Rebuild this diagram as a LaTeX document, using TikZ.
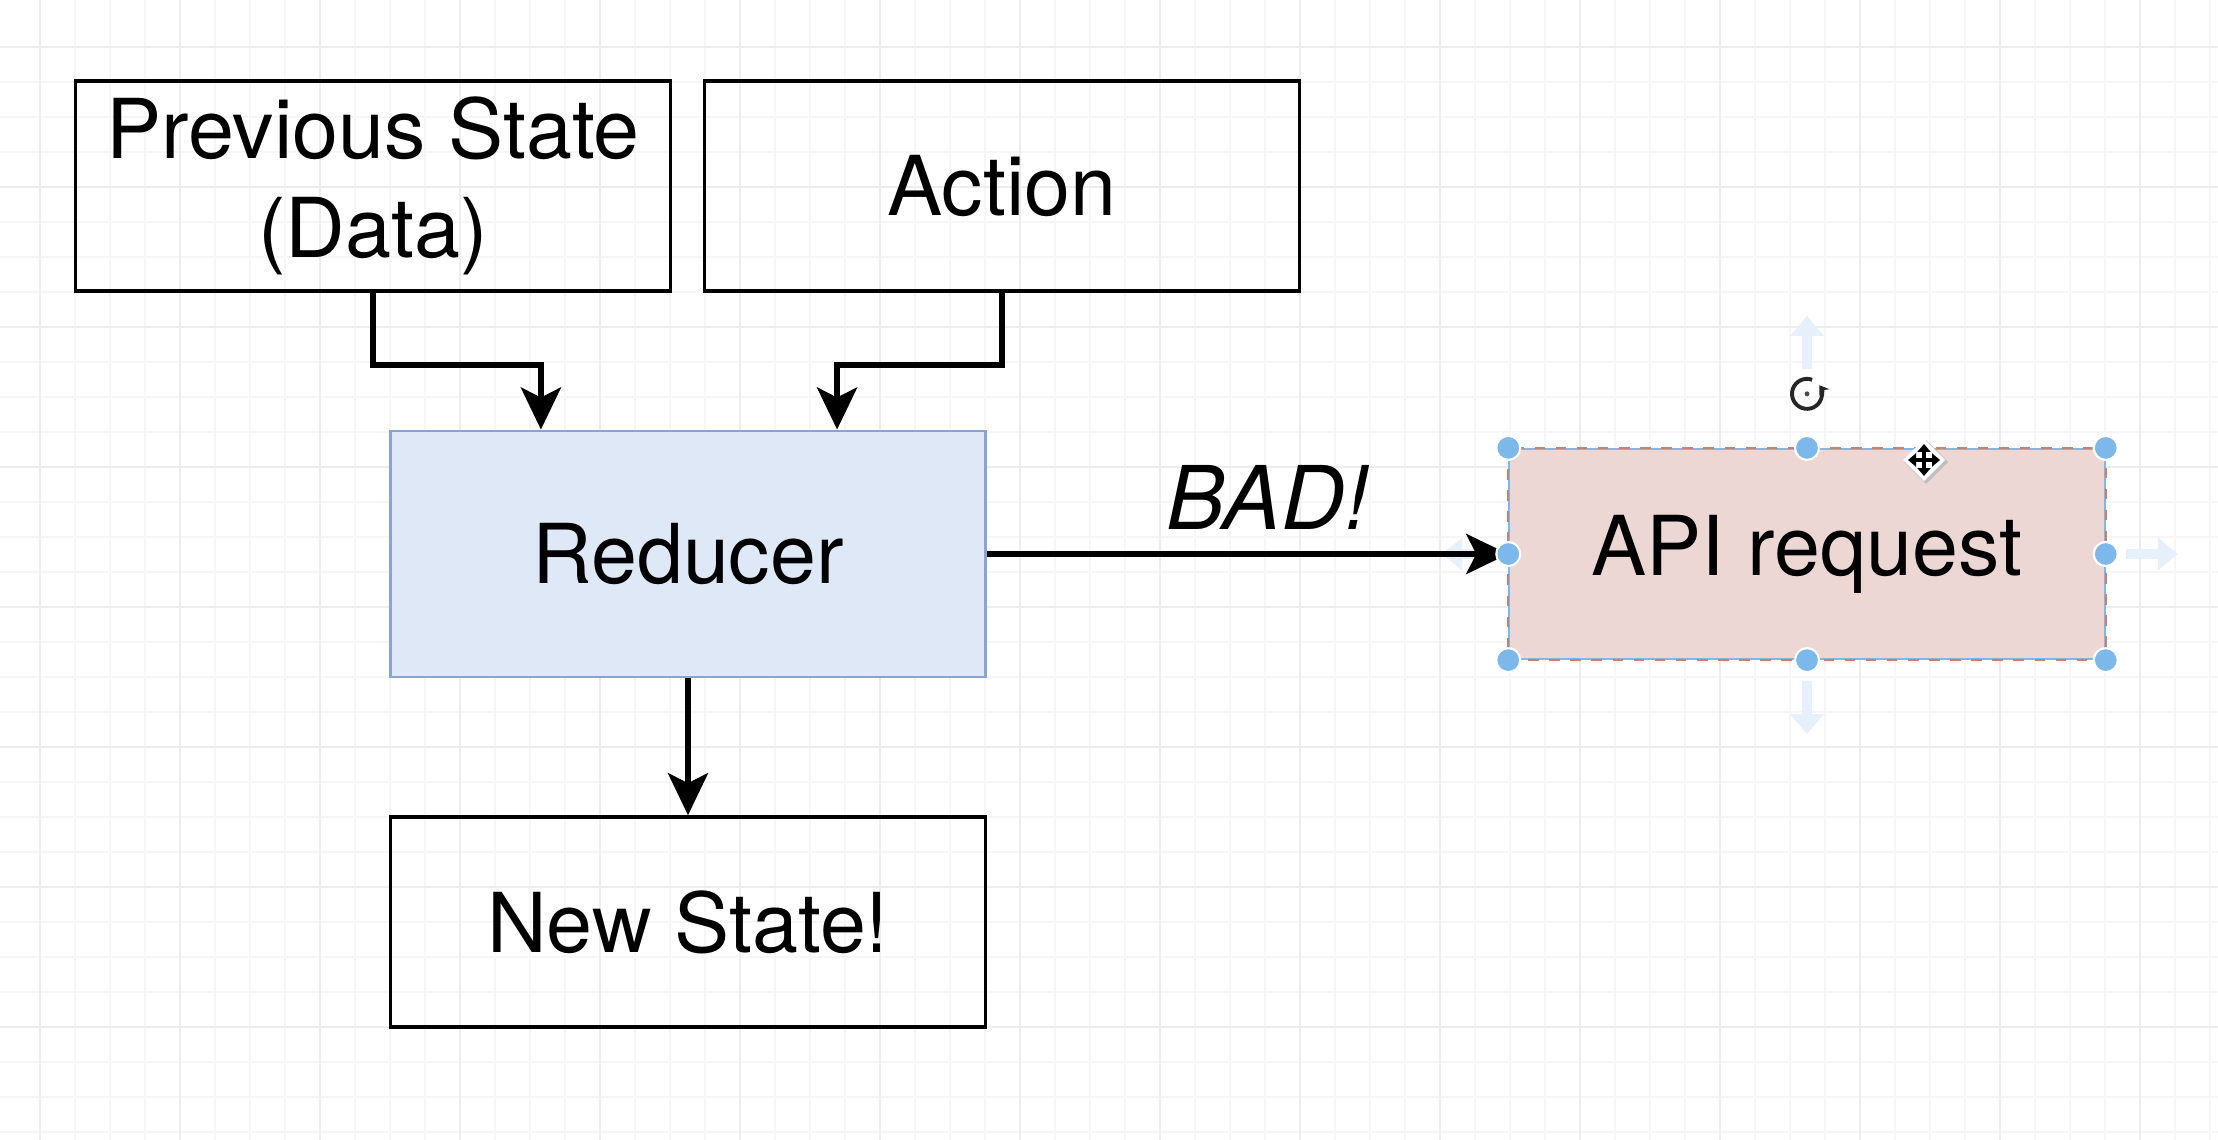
\documentclass[tikz,border=0pt]{standalone}
\usepackage{fontspec}
\setmainfont{TeX Gyre Heros}
\usetikzlibrary{positioning, arrows.meta}

\definecolor{gridminor}{HTML}{F6F6F6}
\definecolor{gridmajor}{HTML}{EDEDED}
\definecolor{reducerfill}{HTML}{DFE8F7}
\definecolor{reducerline}{HTML}{8AA3CF}
\definecolor{apifill}{HTML}{ECD7D5}
\definecolor{apiline}{HTML}{C7826F}
\definecolor{handleblue}{HTML}{7DB8EA}
\definecolor{hintblue}{HTML}{E6F0FB}

\tikzset{
  block/.style={draw, line width=1pt, minimum width=5.95cm, minimum height=2.1cm,
    inner sep=0pt, align=center, font=\fontsize{23.5}{28}\selectfont},
  flow/.style={line width=1.6pt, -{Stealth[length=0.42cm, width=0.4cm, inset=0.1cm]}},
  handle/.style={fill=handleblue, draw=white, line width=0.6pt},
  hint/.style={hintblue, line width=2.8pt, -{Triangle[length=0.2cm, width=0.32cm]}},
  movetip/.style={line width=1pt, {Triangle[length=0.08cm, width=0.13cm]}-{Triangle[length=0.08cm, width=0.13cm]}},
}

\begin{document}
\begin{tikzpicture}[x=0.01cm, y=-0.01cm]
        % Canvas
        \useasboundingbox (0,0) rectangle (2218,1140);
        \fill[white] (0,0) rectangle (2218,1140);
        \foreach \x in {40,75,...,2218} \draw[gridminor] (\x,0) -- (\x,1140);
        \foreach \y in {47,82,...,1140} \draw[gridminor] (0,\y) -- (2218,\y);
        \foreach \x in {40,180,...,2218} \draw[gridmajor] (\x,0) -- (\x,1140);
        \foreach \y in {47,187,...,1140} \draw[gridmajor] (0,\y) -- (2218,\y);

        % Blocks
        \node[block] (prev) at (373,186) {Previous State\\(Data)};
        \node[block] (action) at (1002,186) {Action};
        \node[block, fill=reducerfill, draw=reducerline, line width=0.8pt, minimum height=2.46cm] (reducer) at (688,554) {Reducer};
        \node[block] (newstate) at (688,922) {New State!};
        \node[block, fill=apifill, draw=handleblue, line width=0.6pt] (api) at (1807,554) {API request};
        \draw[apiline, dashed, line width=0.6pt] (api.north west) rectangle (api.south east);

        % Selection hints
        \draw[hint] ([yshift=0.79cm]api.north) -- ([yshift=1.32cm]api.north);
        \draw[hint] ([yshift=-0.21cm]api.south) -- ([yshift=-0.74cm]api.south);
        \draw[hint] ([xshift=0.2cm]api.east) -- ([xshift=0.72cm]api.east);
        \draw[hint] ([xshift=-0.2cm]api.west) -- ([xshift=-0.66cm]api.west);

        % Arrows
        \draw[flow] (prev.south) -- ++(0,72) -| ([xshift=-1.47cm]reducer.north);
        \draw[flow] (action.south) -- ++(0,72) -| ([xshift=1.49cm]reducer.north);
        \draw[flow] (reducer.south) -- (newstate.north);
        \draw[flow] (reducer.east) -- node[above=0.22cm, xshift=0.2cm, inner sep=0pt,
            font=\fontsize{25}{30}\selectfont\itshape] {BAD!} (api.west);

        % Handles
        \coordinate (rot) at ([yshift=0.54cm]api.north);
        \draw[black!85, line width=1.1pt, -{Stealth[length=0.09cm, width=0.12cm]}] ([shift={(70:0.15cm)}]rot)
            arc[start angle=70, end angle=395, radius=0.15cm];
        \fill[black!70] (rot) circle (0.025cm);
        \coordinate (move) at (1924,460);
        \fill[black!25] ([shift={(0.02cm,-0.02cm)}]move) +(0,0.22cm) -- +(0.22cm,0) -- +(0,-0.22cm) -- +(-0.22cm,0) -- cycle;
        \fill[white] (move) +(0,0.21cm) -- +(0.21cm,0) -- +(0,-0.21cm) -- +(-0.21cm,0) -- cycle;
        \draw[movetip] ([yshift=0.16cm]move) -- ([yshift=-0.16cm]move);
        \draw[movetip] ([xshift=-0.16cm]move) -- ([xshift=0.16cm]move);
        \foreach \a in {north west, north, north east, east, south east, south, south west, west}
            \filldraw[handle] (api.\a) circle (0.12cm);
\end{tikzpicture}
\end{document}
